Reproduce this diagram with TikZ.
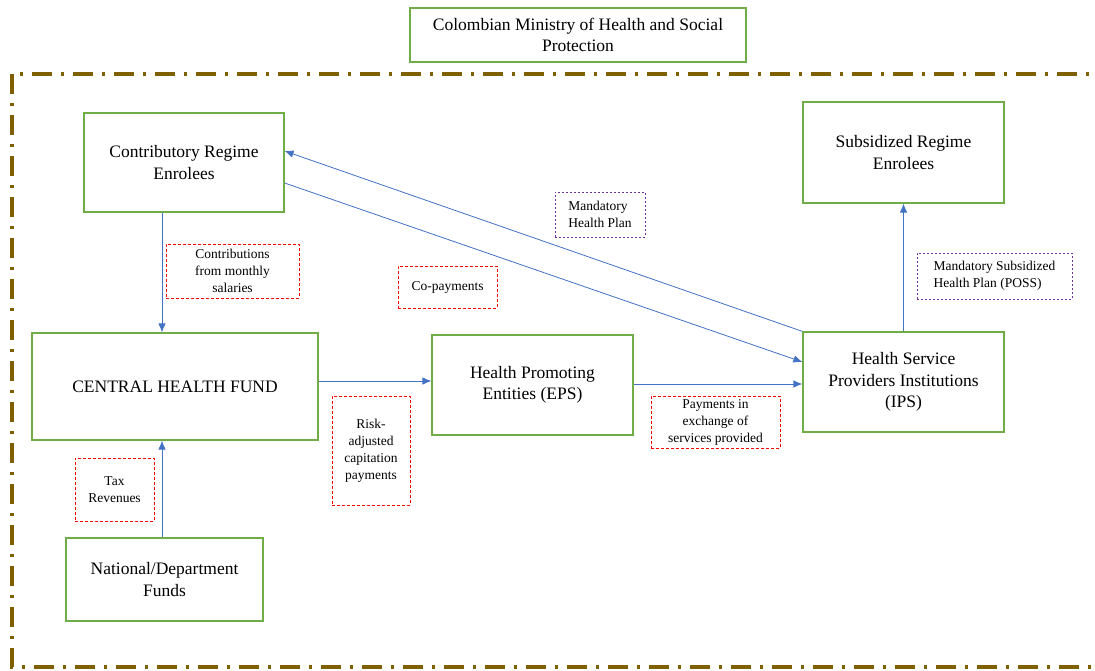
\documentclass[tikz,border=0pt]{standalone}
\usepackage{fontspec}
\setmainfont{Liberation Serif}
\usetikzlibrary{arrows.meta,calc}
\definecolor{boxgreen}{RGB}{112,173,71}
\definecolor{arrblue}{RGB}{68,114,196}
\definecolor{framebrown}{RGB}{127,96,0}
\definecolor{labred}{RGB}{255,0,0}
\definecolor{labpurple}{RGB}{112,48,160}
\tikzset{
  mainbox/.style={draw=boxgreen, line width=1.2pt, align=center, font=\fontsize{17.5}{21.5}\selectfont, inner sep=2pt},
  redlab/.style={draw=labred, dash pattern=on 3pt off 2pt, line width=1pt, align=center, font=\fontsize{13.5}{17}\selectfont, inner sep=1pt},
  purplab/.style={draw=labpurple, dash pattern=on 2pt off 2pt, line width=1pt, align=left, font=\fontsize{13.5}{17}\selectfont, inner sep=1pt},
  arr/.style={draw=arrblue, line width=0.8pt, -{Latex[length=9pt,width=7.5pt]}}
}
\begin{document}
\begin{tikzpicture}[x=1pt,y=-1pt]
\useasboundingbox (0,0) rectangle (1095,670);
\clip (0,0) rectangle (1095,670);
\fill[white] (0,0) rectangle (1095,670);
% frame
\draw[framebrown, line width=4pt, dash pattern=on 20pt off 9pt on 3pt off 9pt] (12,74) rectangle (1120,667);
% main boxes
\node[mainbox, minimum width=336pt, minimum height=54pt] (min) at (578,35) {Colombian Ministry of Health and Social\\Protection};
\node[mainbox, minimum width=200pt, minimum height=99pt] (contrib) at (184,162.5) {Contributory Regime\\Enrolees};
\node[mainbox, minimum width=201pt, minimum height=101pt] (subs) at (903.5,152.5) {Subsidized Regime\\Enrolees};
\node[mainbox, minimum width=286pt, minimum height=107pt] (chf) at (175,386.5) {CENTRAL HEALTH FUND};
\node[mainbox, minimum width=201pt, minimum height=100pt] (eps) at (532.5,385) {Health Promoting\\Entities (EPS)};
\node[mainbox, minimum width=201pt, minimum height=100pt] (ips) at (903.5,382) {Health Service\\Providers Institutions\\(IPS)};
\node[mainbox, minimum width=197pt, minimum height=83pt] (nat) at (164.5,579.5) {National/Department\\Funds};
% labels
\node[redlab, minimum width=133pt, minimum height=54pt] (lcontr) at (232.5,271) {Contributions\\from monthly\\salaries};
\node[redlab, minimum width=99pt, minimum height=42pt] (lcopay) at (447.5,287) {Co-payments};
\node[redlab, minimum width=78pt, minimum height=109pt] (lrisk) at (371,450.5) {Risk-\\adjusted\\capitation\\payments};
\node[redlab, minimum width=129pt, minimum height=52pt] (lpay) at (715.5,422) {Payments in\\exchange of\\services provided};
\node[redlab, minimum width=79pt, minimum height=63pt] (ltax) at (114.5,489.5) {Tax\\Revenues};
\node[purplab, minimum width=90pt, minimum height=45pt] (lmhp) at (600,214.5) {Mandatory\\Health Plan};
\node[purplab, minimum width=155pt, minimum height=46pt] (lposs) at (994.5,276) {Mandatory Subsidized\\Health Plan (POSS)};
% arrows
\draw[arr] (contrib.south -| 162,0) -- (chf.north -| 162,0);
\draw[arr] (nat.north -| 162,0) -- (chf.south -| 162,0);
\draw[arr] (chf.east |- 0,381) -- (eps.west |- 0,381);
\draw[arr] (eps.east |- 0,384) -- (ips.west |- 0,384);
\draw[arr] ([yshift=-20.5pt]contrib.east) -- ([yshift=20pt]ips.west);
\draw[arr] (ips.north west) -- ([yshift=11.5pt]contrib.east);
\draw[arr] (ips.north) -- (subs.south);
\end{tikzpicture}
\end{document}
